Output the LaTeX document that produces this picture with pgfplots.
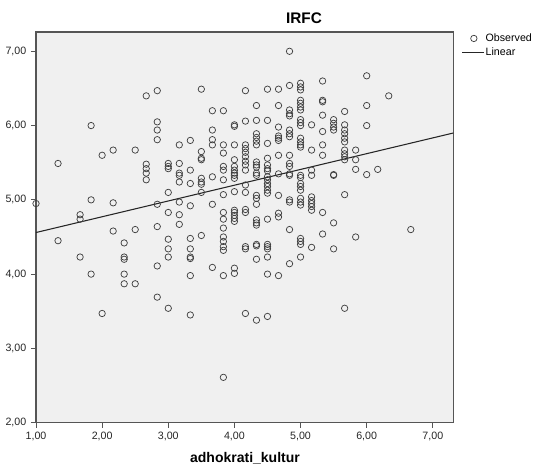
\documentclass[border=0pt]{standalone}
\usepackage{fontspec}
\setmainfont{Liberation Sans}
\usepackage{pgfplots}
\pgfplotsset{compat=1.18}
\usepackage{pgfplotstable}
\definecolor{bgc}{RGB}{240,240,240}
\definecolor{frame}{RGB}{85,85,85}
\pgfplotsset{linelegend/.style={legend image code/.code={\draw[##1] (0pt,0pt) -- (16pt,0pt);}}}
\pgfplotstableread{
x y
1.0000 4.95
1.3333 5.49
1.3333 4.45
1.6667 4.80
1.6667 4.74
1.6667 4.23
1.8333 6.00
1.8333 5.00
1.8333 4.00
2.0000 5.60
2.0000 3.47
2.1667 5.67
2.1667 4.96
2.1667 4.58
2.3333 4.42
2.3333 4.23
2.3333 4.20
2.3333 4.00
2.3333 3.87
2.5000 5.67
2.5000 4.60
2.5000 3.87
2.6667 6.40
2.6667 5.48
2.6667 5.42
2.6667 5.36
2.6667 5.27
2.8333 6.47
2.8333 6.05
2.8333 5.94
2.8333 5.81
2.8333 4.94
2.8333 4.64
2.8333 4.11
2.8333 3.69
3.0000 5.49
3.0000 5.45
3.0000 5.42
3.0000 5.10
3.0000 4.83
3.0000 4.47
3.0000 4.34
3.0000 4.23
3.0000 3.54
3.1667 5.74
3.1667 5.49
3.1667 5.36
3.1667 5.33
3.1667 5.24
3.1667 4.97
3.1667 4.80
3.1667 4.67
3.3333 5.80
3.3333 5.40
3.3333 5.22
3.3333 4.92
3.3333 4.48
3.3333 4.34
3.3333 4.23
3.3333 4.21
3.3333 3.98
3.3333 3.45
3.5000 6.49
3.5000 5.65
3.5000 5.56
3.5000 5.54
3.5000 5.29
3.5000 5.24
3.5000 5.21
3.5000 5.10
3.5000 4.52
3.6667 6.20
3.6667 5.94
3.6667 5.81
3.6667 5.74
3.6667 5.31
3.6667 4.94
3.6667 4.09
3.8333 6.20
3.8333 5.74
3.8333 5.63
3.8333 5.45
3.8333 5.40
3.8333 5.27
3.8333 5.07
3.8333 4.83
3.8333 4.74
3.8333 4.62
3.8333 4.50
3.8333 4.44
3.8333 4.37
3.8333 4.32
3.8333 3.98
3.8333 2.61
4.0000 6.01
4.0000 5.99
4.0000 5.74
4.0000 5.54
4.0000 5.45
4.0000 5.40
4.0000 5.36
4.0000 5.33
4.0000 5.29
4.0000 5.11
4.0000 4.86
4.0000 4.83
4.0000 4.79
4.0000 4.75
4.0000 4.71
4.0000 4.08
4.0000 4.01
4.1667 6.47
4.1667 6.06
4.1667 5.74
4.1667 5.69
4.1667 5.64
4.1667 5.58
4.1667 5.52
4.1667 5.47
4.1667 5.40
4.1667 5.20
4.1667 5.10
4.1667 4.87
4.1667 4.83
4.1667 4.37
4.1667 4.34
4.1667 3.47
4.3333 6.27
4.3333 6.07
4.3333 5.89
4.3333 5.84
4.3333 5.79
4.3333 5.74
4.3333 5.51
4.3333 5.47
4.3333 5.44
4.3333 5.36
4.3333 5.33
4.3333 5.06
4.3333 5.02
4.3333 4.94
4.3333 4.73
4.3333 4.69
4.3333 4.66
4.3333 4.40
4.3333 4.38
4.3333 4.20
4.3333 3.38
4.5000 6.49
4.5000 6.07
4.5000 5.76
4.5000 5.56
4.5000 5.47
4.5000 5.42
4.5000 5.39
4.5000 5.31
4.5000 5.27
4.5000 5.22
4.5000 5.18
4.5000 5.13
4.5000 5.09
4.5000 4.74
4.5000 4.40
4.5000 4.37
4.5000 4.34
4.5000 4.23
4.5000 4.00
4.5000 3.43
4.6667 6.49
4.6667 6.27
4.6667 5.98
4.6667 5.86
4.6667 5.83
4.6667 5.80
4.6667 5.60
4.6667 5.35
4.6667 5.06
4.6667 4.82
4.6667 4.77
4.6667 3.98
4.8333 7.00
4.8333 6.54
4.8333 6.21
4.8333 6.16
4.8333 6.13
4.8333 5.94
4.8333 5.89
4.8333 5.85
4.8333 5.60
4.8333 5.49
4.8333 5.45
4.8333 5.35
4.8333 5.33
4.8333 5.00
4.8333 4.97
4.8333 4.60
4.8333 4.14
5.0000 6.57
5.0000 6.52
5.0000 6.48
5.0000 6.34
5.0000 6.30
5.0000 6.25
5.0000 6.21
5.0000 6.08
5.0000 6.04
5.0000 6.00
5.0000 5.83
5.0000 5.78
5.0000 5.74
5.0000 5.71
5.0000 5.33
5.0000 5.30
5.0000 5.22
5.0000 5.18
5.0000 5.13
5.0000 5.02
5.0000 4.97
5.0000 4.93
5.0000 4.48
5.0000 4.44
5.0000 4.40
5.0000 4.23
5.1667 6.01
5.1667 5.67
5.1667 5.40
5.1667 5.33
5.1667 5.04
5.1667 4.99
5.1667 4.95
5.1667 4.91
5.1667 4.86
5.1667 4.36
5.3333 6.60
5.3333 6.34
5.3333 6.32
5.3333 6.14
5.3333 5.92
5.3333 5.74
5.3333 5.60
5.3333 4.83
5.3333 4.54
5.5000 6.08
5.5000 6.03
5.5000 5.98
5.5000 5.94
5.5000 5.33
5.5000 5.34
5.5000 4.69
5.5000 4.34
5.6667 6.19
5.6667 6.01
5.6667 5.94
5.6667 5.89
5.6667 5.83
5.6667 5.78
5.6667 5.67
5.6667 5.62
5.6667 5.58
5.6667 5.54
5.6667 5.07
5.6667 3.54
5.8333 5.67
5.8333 5.54
5.8333 5.41
5.8333 4.50
6.0000 6.67
6.0000 6.27
6.0000 6.00
6.0000 5.34
6.1667 5.41
6.3333 6.40
6.6667 4.60
}\observed
\pgfplotstableread{
x y
1.00 4.56
7.31 5.90
}\linear
\begin{document}
\begin{tikzpicture}
\useasboundingbox (0,0) rectangle (402pt,352.5pt);
\begin{axis}[
  at={(27pt,35.5pt)}, anchor=south west,
  width=313pt, height=293pt, scale only axis,
  xmin=1, xmax=7.31, ymin=2, ymax=7.26,
  xtick={1,2,3,4,5,6,7}, ytick={2,3,4,5,6,7},
  tick align=outside, tick pos=left,
  major tick length=3.75pt,
  axis line style={frame, line width=0.9pt},
  every tick/.style={frame, line width=0.7pt},
  axis background/.style={fill=bgc},
  ticklabel style={font=\fontsize{8}{9}\selectfont, text=black!85},
  xticklabel={\pgfmathprintnumber[fixed,fixed zerofill,precision=2,use comma,assume math mode=true]{\tick}},
  yticklabel={\pgfmathprintnumber[fixed,fixed zerofill,precision=2,use comma,assume math mode=true]{\tick}},
  legend style={at={(1.02,1.0)}, anchor=north west, draw=none, fill=none,
    font=\fontsize{8}{9}\selectfont, inner sep=0pt, row sep=1pt,
    nodes={inner sep=1pt}},
  legend cell align=left,
]
\addplot[only marks, mark=o, mark size=2.4pt, draw=black!75, mark options={line width=0.55pt}]
  table[x=x,y=y] {\observed};
\addlegendentry{Observed}
\addplot[black!85, line width=0.8pt, linelegend]
  table[x=x,y=y] {\linear};
\addlegendentry{Linear}
\end{axis}
\node[font=\fontsize{11.5}{13}\selectfont\bfseries] at (228pt,339pt) {IRFC};
\node[font=\fontsize{10.5}{12}\selectfont\bfseries] at (183.75pt,8.5pt) {adhokrati\_kultur};
\end{tikzpicture}
\end{document}
